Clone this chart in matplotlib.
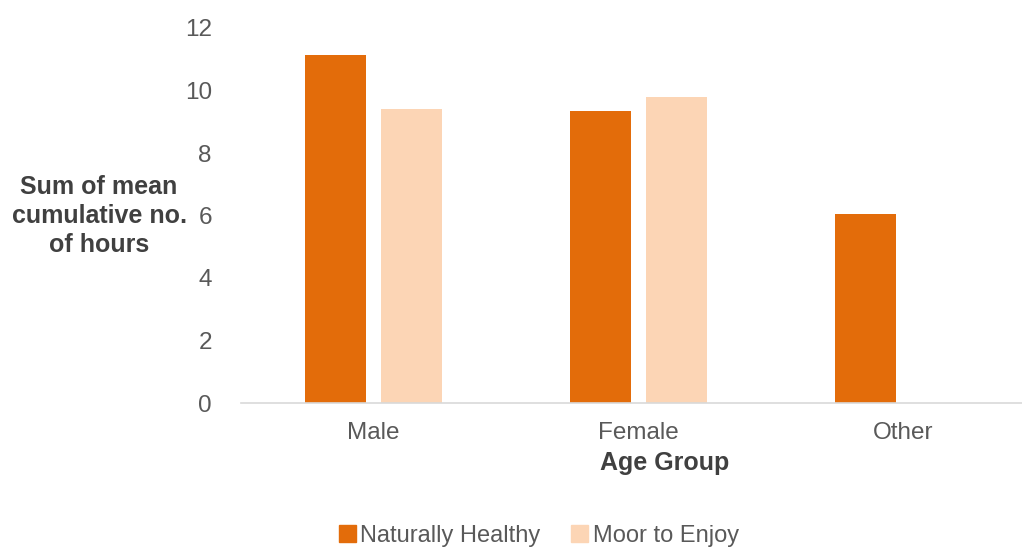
import numpy as np
import matplotlib.pyplot as plt
from matplotlib.patches import Patch

plt.rcParams['font.family'] = ['Liberation Sans', 'DejaVu Sans']

# data
categories = ["Male", "Female", "Other"]
series_names = ["Naturally Healthy", "Moor to Enjoy"]
naturally_healthy = [11.13, 9.33, 6.04]
moor_to_enjoy = [9.41, 9.80, 0]
y_ticks = [0, 2, 4, 6, 8, 10, 12]

c_nh = "#E36C0A"
c_me = "#FCD5B5"
grey = "#595959"

fig = plt.figure(figsize=(10.22, 5.47), dpi=100)
ax = fig.add_axes([241 / 1022, 144 / 547, 795 / 1022, 375 / 547])

x = np.arange(len(categories))
w = 0.23
off = 0.143
ax.bar(x - off, naturally_healthy, w, color=c_nh)
ax.bar(x + off, moor_to_enjoy, w, color=c_me)

ax.set_xlim(-0.5, 2.5)
ax.set_ylim(0, 12)
ax.set_yticks(y_ticks)
ax.set_xticks(x)
ax.set_xticklabels(categories)
ax.tick_params(axis='both', length=0, labelsize=17.5, colors=grey)
ax.tick_params(axis='y', pad=21)
ax.tick_params(axis='x', pad=14)

for s in ["top", "right", "left"]:
    ax.spines[s].set_visible(False)
ax.spines["bottom"].set_color("#D9D9D9")
ax.spines["bottom"].set_linewidth(1.2)

fig.text(99 / 1022, 1 - 216 / 547, "Sum of mean\ncumulative no.\nof hours",
         ha='center', va='center', multialignment='center',
         fontsize=18, fontweight='bold', color="#404040", linespacing=1.25)
fig.text(665 / 1022, 1 - 463 / 547, "Age Group", ha='center', va='center',
         fontsize=18, fontweight='bold', color="#404040")

handles = [Patch(color=c_nh), Patch(color=c_me)]
fig.legend(handles, series_names, loc='center', bbox_to_anchor=(539 / 1022, 1 - 536 / 547),
           ncol=2, frameon=False, fontsize=17, handlelength=0.7, handleheight=0.7,
           handletextpad=0.2, columnspacing=1.3, labelcolor=grey)

fig.savefig("out.png", dpi=100)
